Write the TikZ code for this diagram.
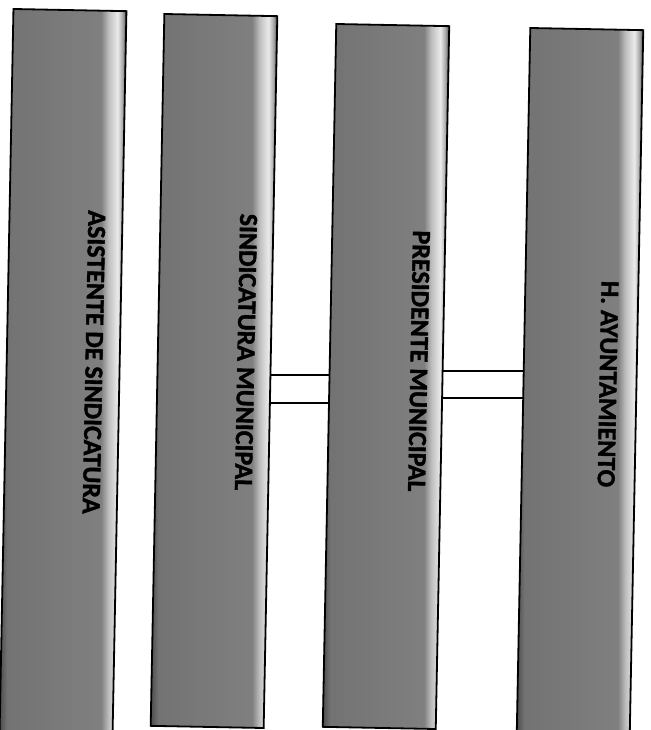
\documentclass[tikz,border=0pt]{standalone}
\usepackage{fontspec}
\setmainfont{Carlito}[BoldFeatures={FakeBold=1.5}]
\usetikzlibrary{calc}
\pgfdeclarehorizontalshading{barshade}{100bp}{color(0bp)=(black!70); color(25bp)=(black!70); color(28bp)=(black!55); color(65bp)=(black!50); color(68bp)=(black!25); color(71.5bp)=(black!8); color(73.5bp)=(black!35); color(75bp)=(black!70); color(100bp)=(black!70)}
\tikzset{
  bar/.style={draw=black, line width=1.8pt, shading=barshade, rotate=-1.1,
    minimum width=113pt, inner sep=0pt, outer sep=0pt},
  lbl/.style={font=\fontsize{26}{30}\selectfont\bfseries, text=black,
    rotate=-91.1, inner sep=0pt},
  link/.style={draw=black, line width=1.1pt}
}
\begin{document}
\begin{tikzpicture}[x=1pt,y=-1pt]
\useasboundingbox (0,0) rectangle (650,730);
\clip (0,0) rectangle (650,730);
% bars
\node[bar, minimum height=724pt] (b1) at (63,372) {};
\node[bar, minimum height=712pt] (b2) at (214,371) {};
\node[bar, minimum height=703pt] (b3) at (386,376.5) {};
\node[bar, minimum height=706pt] (b4) at (580,382) {};
% labels
\node[lbl] (t1) at (94,362) {ASISTENTE DE SINDICATURA};
\node[lbl] (t2) at (246,352) {SINDICATURA MUNICIPAL};
\node[lbl] (t3) at (419,361) {PRESIDENTE MUNICIPAL};
\node[lbl] (t4) at (608,384) {H. AYUNTAMIENTO};
% connectors
\coordinate (ya) at (0,375);
\coordinate (yb) at (0,403);
\coordinate (yc) at (0,371);
\coordinate (yd) at (0,398);
\draw[link] (b2.east |- ya) -- (b3.west |- ya);
\draw[link] (b2.east |- yb) -- (b3.west |- yb);
\draw[link] (b3.east |- yc) -- (b4.west |- yc);
\draw[link] (b3.east |- yd) -- (b4.west |- yd);
\end{tikzpicture}
\end{document}
